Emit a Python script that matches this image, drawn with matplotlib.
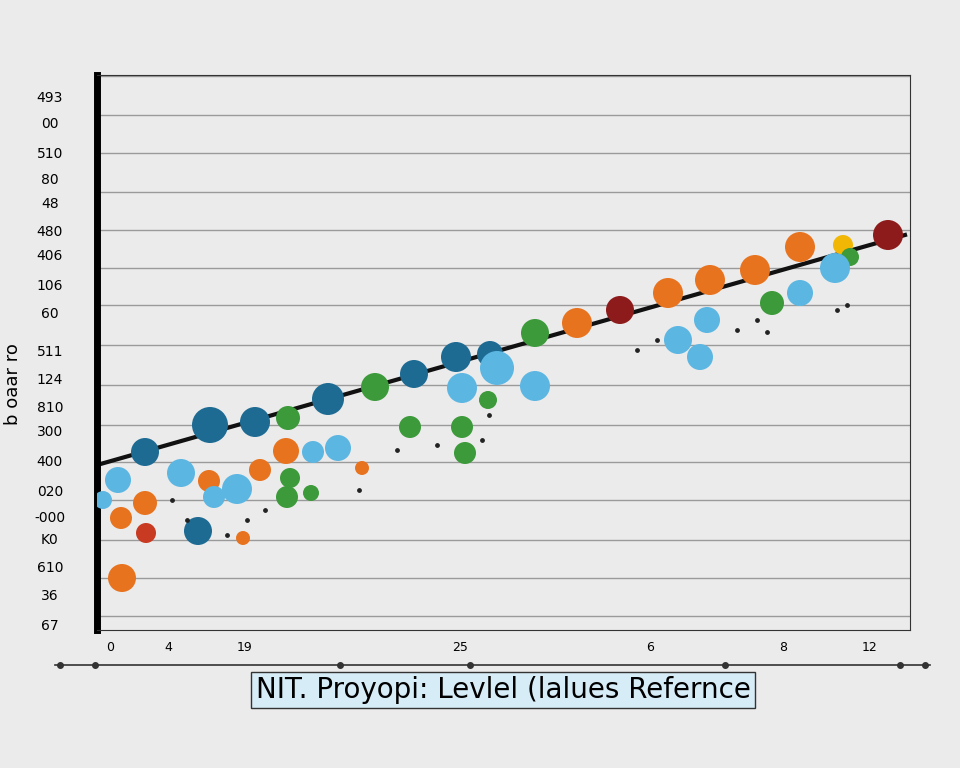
import matplotlib
matplotlib.use("Agg")
import matplotlib.pyplot as plt

# data (in axis units: x 0..813, y 0..555)
ytick_labels = ["493","00","510","80","48","480","406","106","60","511","124","810","300","400","020","-000","K0","610","36","67"]
ytick_pos = [533,508,478,452,427,400,376,345,318,280,252,224,200,170,140,114,92,64,36,5]
xtick_labels = ["0","4","19","25","6","8","12"]
xtick_pos = [13,71,148,363,553,686,773]
grid_y = [554,515,477,438,400,362,325,285,245,205,168,130,90,52,14]
trend_x = [0, 808]
trend_y = [165, 395]
colors = {"dark":"#1d6a93","light":"#5cb6e2","orange":"#e8731f","green":"#3c9a3a",
          "red":"#c83a22","darkred":"#8e1b1b","yellow":"#f2b705"}
pts_x = [48,113,158,191,231,278,317,359,393,400,365,438,438,480,523,571,613,658,703,746,753,738,791,703,675,610,581,603,313,365,391,368,21,6,48,24,49,101,25,84,112,140,117,163,189,216,241,193,190,214,265,146]
pts_y = [178,205,208,212,231,243,256,273,276,262,242,244,297,307,320,337,350,360,383,385,373,362,395,337,327,310,290,273,203,203,230,177,150,130,127,112,97,99,52,157,149,141,133,160,179,178,182,152,133,137,162,92]
pts_c = ["dark","dark","dark","green","dark","green","dark","dark","dark","light","light","light","green","orange","darkred","orange","orange","orange","orange","yellow","green","light","darkred","light","green","light","light","light","green","green","green","green","light","light","orange","orange","red","dark","orange","light","orange","light","light","orange","orange","light","light","green","green","green","orange","orange"]
pts_s = [28,36,30,24,32,28,28,30,26,34,30,30,28,30,28,30,30,30,30,20,18,30,30,26,24,26,28,26,22,22,18,22,26,18,24,22,20,28,28,28,22,30,22,22,26,22,26,20,22,16,14,14]
dots_x = [75,90,130,150,168,262,300,340,385,392,540,560,640,660,670,740,750]
dots_y = [130,110,95,110,120,140,180,185,190,215,280,290,300,310,298,320,325]

fig = plt.figure(figsize=(9.6,7.68), dpi=100)
fig.patch.set_facecolor("#ebebeb")
ax = fig.add_axes([97/960, 138/768, 813/960, 555/768])
ax.set_facecolor("#ebebeb")
ax.set_xlim(0,813); ax.set_ylim(0,555)
for g in grid_y:
    ax.axhline(g, color="#9a9a9a", lw=1, zorder=0)
ax.plot(trend_x, trend_y, color="#111111", lw=3, zorder=2)
ax.scatter(pts_x, pts_y, s=[(d*0.72)**2 for d in pts_s], c=[colors[c] for c in pts_c], zorder=3, lw=0)
ax.scatter(dots_x, dots_y, s=6, c="#222222", zorder=4)
for s in ["top","right","bottom"]:
    ax.spines[s].set_color("#333333")
ax.spines["left"].set_linewidth(5)
ax.set_yticks(ytick_pos); ax.set_yticklabels(ytick_labels, fontsize=10)
ax.set_xticks(xtick_pos); ax.set_xticklabels(xtick_labels, fontsize=9)
for t in ax.get_yticklabels():
    t.set_horizontalalignment("center")
ax.tick_params(length=0, pad=8)
ax.tick_params(axis="y", pad=34)
fig.text(0.004, 0.50, "b oaar ro", rotation=90, fontsize=13, va="center")
fig.lines.append(plt.Line2D([55/960, 930/960], [103/768, 103/768], color="#333", lw=1.2, transform=fig.transFigure))
for xp in [60, 95, 340, 470, 725, 900, 925]:
    fig.lines.append(plt.Line2D([xp/960], [103/768], marker="o", ms=4, color="#333", transform=fig.transFigure))
fig.text(503/960, 78/768, "NIT. Proyopi: Levlel (lalues Refernce", ha="center", va="center",
         fontsize=20, fontfamily="DejaVu Sans",
         bbox=dict(facecolor="#d6ecf7", edgecolor="#333", pad=3))
fig.savefig("out.png", dpi=100, facecolor=fig.get_facecolor())
